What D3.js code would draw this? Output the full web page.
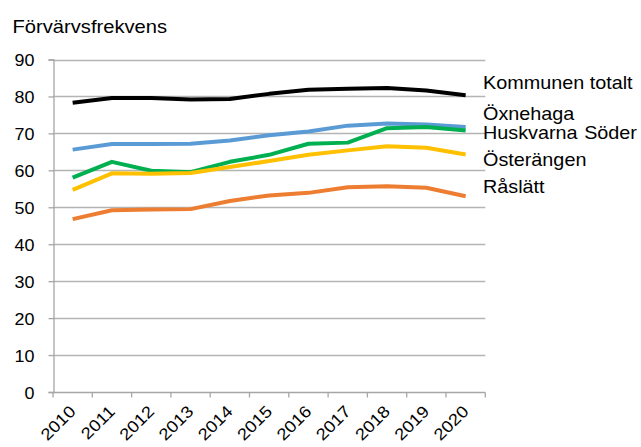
<!DOCTYPE html>
<html><head><meta charset="utf-8">
<script src="https://cdn.jsdelivr.net/npm/d3@7"></script>
<style>body{margin:0;background:#fff}svg{display:block}text{font-family:"Liberation Sans",Arial,sans-serif;fill:#000}</style>
</head><body>
<script>
const years = ["2010","2011","2012","2013","2014","2015","2016","2017","2018","2019","2020"];
const yTicks = [0,10,20,30,40,50,60,70,80,90];
const kommunen = [78.3,79.6,79.6,79.2,79.3,80.7,81.8,82.1,82.3,81.6,80.3];
const oxnehaga = [65.6,67.1,67.1,67.2,68.1,69.5,70.5,72.1,72.7,72.4,71.7];
const huskvarna = [58.0,62.3,59.9,59.5,62.3,64.2,67.2,67.5,71.4,71.7,70.8];
const osterangen = [54.7,59.2,59.1,59.3,60.9,62.5,64.2,65.4,66.5,66.1,64.3];
const raslatt = [46.8,49.2,49.4,49.5,51.7,53.2,53.9,55.4,55.7,55.3,53.0];
const seriesNames = ["Kommunen totalt","Öxnehaga","Huskvarna Söder","Österängen","Råslätt"];
const seriesValues = [kommunen,oxnehaga,huskvarna,osterangen,raslatt];
const colors = ["#000000","#5b9bd5","#00b050","#ffc000","#ed7d31"];
const labelY = [89,119.5,139,166,192.5];

const W=641,H=447;
const svg=d3.select("body").append("svg").attr("width",W).attr("height",H);
const x=d3.scaleBand().domain(years).range([53,485.3]);
const y=d3.scaleLinear().domain([0,90]).range([392,59.5]);
const SX=1.1;

// gridlines
svg.append("g").selectAll("line").data(yTicks.filter(d=>d>0)).join("line")
  .attr("x1",53).attr("x2",485.3).attr("y1",d=>Math.round(y(d))+0.5).attr("y2",d=>Math.round(y(d))+0.5)
  .attr("stroke","#b4b4b4").attr("stroke-width",1.3);
// y axis
const ya=svg.append("g").attr("transform","translate(53.5,0)")
  .call(d3.axisLeft(y).tickValues(yTicks).tickSize(5).tickPadding(0).tickFormat(d3.format("d")));
ya.select(".domain").attr("stroke","#a6a6a6").attr("stroke-width",1.3);
ya.selectAll(".tick line").attr("stroke","#a6a6a6").attr("stroke-width",1.3);
ya.selectAll(".tick text").attr("font-size",16).attr("x",0).attr("dy",null)
  .attr("transform","translate(-19,6) scale(1.12,1)").attr("text-anchor","end");
// x axis
const xa=svg.append("g").attr("transform","translate(0,392.5)");
xa.append("line").attr("x1",53).attr("x2",485.3).attr("stroke","#a6a6a6").attr("stroke-width",1.3);
const bounds=years.map(d=>x(d)).concat([x.range()[1]]);
xa.selectAll("line.t").data(bounds).join("line").attr("class","t")
  .attr("x1",d=>d).attr("x2",d=>d).attr("y1",0).attr("y2",5).attr("stroke","#a6a6a6").attr("stroke-width",1.3);
xa.selectAll("text").data(years).join("text")
  .attr("transform",d=>"translate("+(x(d)+x.bandwidth()/2+4)+",20) rotate(-45) scale(1.12,1)")
  .attr("text-anchor","end").attr("font-size",16.5).text(d=>d);

// lines
const line=d3.line().x((d,i)=>x(years[i])+x.bandwidth()/2).y(d=>y(d));
svg.append("g").selectAll("path").data(seriesValues).join("path")
  .attr("d",d=>line(d)).attr("fill","none").attr("stroke",(d,i)=>colors[i])
  .attr("stroke-width",4).attr("stroke-linejoin","round");

// labels
const lab=svg.append("g").selectAll("text").data(seriesNames).join("text")
  .attr("transform",(d,i)=>"translate(483,"+labelY[i]+") scale("+SX+",1)")
  .attr("font-size",18);
lab.each(function(d){
  const parts=d.split(" ");
  const t=d3.select(this);
  parts.forEach((p,j)=>t.append("tspan").attr("dx",j>0?(d==="Huskvarna Söder"?6:5):0).text(p));
});

// title
svg.append("text").attr("transform","translate(12.5,32.5) scale(1.12,1)").attr("font-size",18).text("Förvärvsfrekvens");
</script>
</body></html>
